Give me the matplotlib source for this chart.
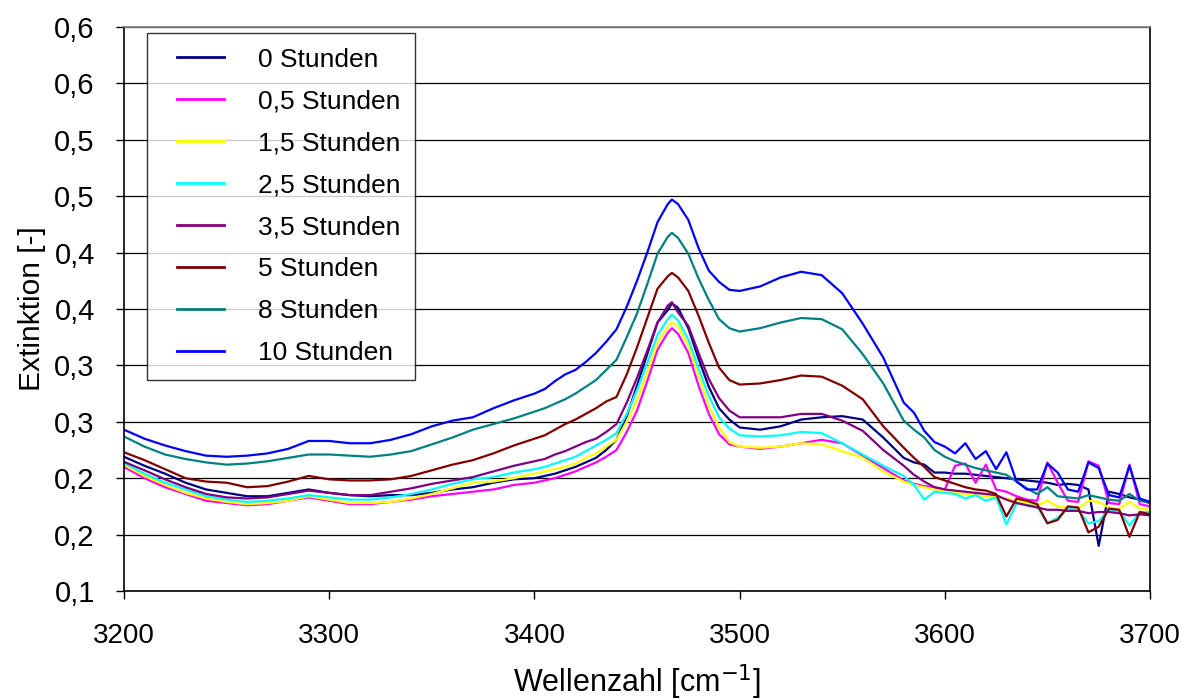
import matplotlib
matplotlib.use("Agg")
import matplotlib.pyplot as plt
from matplotlib.ticker import FixedLocator, FixedFormatter
from matplotlib.legend_handler import HandlerLine2D
from matplotlib.lines import Line2D

plt.rcParams['font.family'] = ['Liberation Sans', 'DejaVu Sans']

wavenumber = [3200, 3210, 3220, 3230, 3240, 3250, 3260, 3270, 3280, 3290,
              3300, 3310, 3320, 3330, 3340, 3350, 3360, 3370, 3380, 3390,
              3400, 3405, 3410, 3415, 3420, 3425, 3430, 3435, 3440, 3445,
              3450, 3455, 3460, 3465, 3467, 3470, 3475, 3480, 3485, 3490,
              3495, 3500, 3510, 3520, 3530, 3540, 3550, 3560, 3570, 3580,
              3585, 3590, 3595, 3600, 3605, 3610, 3615, 3620, 3625, 3630,
              3635, 3640, 3645, 3650, 3655, 3660, 3665, 3670, 3675, 3680,
              3685, 3690, 3695, 3700]

h0 = [0.219, 0.211, 0.204, 0.196, 0.190, 0.187, 0.184, 0.184, 0.187, 0.190,
      0.187, 0.185, 0.184, 0.185, 0.185, 0.187, 0.190, 0.192, 0.196, 0.199,
      0.200, 0.202, 0.204, 0.207, 0.210, 0.214, 0.218, 0.225, 0.234, 0.255,
      0.282, 0.310, 0.338, 0.349, 0.355, 0.351, 0.333, 0.306, 0.281, 0.262,
      0.252, 0.245, 0.243, 0.246, 0.252, 0.254, 0.255, 0.252, 0.236, 0.218,
      0.214, 0.212, 0.205, 0.205, 0.204, 0.204, 0.203, 0.202, 0.201, 0.200,
      0.199, 0.198, 0.197, 0.196, 0.194, 0.195, 0.194, 0.190, 0.140, 0.188,
      0.186, 0.183, 0.181, 0.178]

h05 = [0.210, 0.200, 0.192, 0.186, 0.180, 0.178, 0.176, 0.177, 0.180, 0.183,
       0.180, 0.177, 0.177, 0.179, 0.181, 0.184, 0.186, 0.188, 0.190, 0.194,
       0.196, 0.198, 0.200, 0.203, 0.206, 0.210, 0.214, 0.219, 0.225, 0.241,
       0.260, 0.286, 0.314, 0.329, 0.333, 0.328, 0.311, 0.282, 0.257, 0.239,
       0.230, 0.228, 0.226, 0.228, 0.231, 0.234, 0.231, 0.220, 0.209, 0.198,
       0.195, 0.193, 0.192, 0.190, 0.211, 0.213, 0.196, 0.212, 0.190, 0.188,
       0.184, 0.181, 0.180, 0.214, 0.196, 0.180, 0.179, 0.215, 0.211, 0.178,
       0.177, 0.212, 0.177, 0.175]

h15 = [0.212, 0.202, 0.194, 0.187, 0.182, 0.179, 0.177, 0.178, 0.180, 0.184,
       0.181, 0.178, 0.178, 0.179, 0.182, 0.186, 0.191, 0.196, 0.197, 0.200,
       0.204, 0.206, 0.208, 0.210, 0.213, 0.218, 0.222, 0.228, 0.234, 0.250,
       0.269, 0.294, 0.320, 0.334, 0.338, 0.335, 0.317, 0.291, 0.264, 0.245,
       0.232, 0.228, 0.227, 0.228, 0.231, 0.230, 0.224, 0.218, 0.206, 0.197,
       0.194, 0.192, 0.190, 0.189, 0.187, 0.186, 0.185, 0.184, 0.183, 0.182,
       0.180, 0.178, 0.176, 0.180, 0.175, 0.174, 0.173, 0.180, 0.179, 0.174,
       0.173, 0.179, 0.173, 0.172]

h25 = [0.2135, 0.204, 0.196, 0.190, 0.184, 0.181, 0.179, 0.180, 0.182, 0.185,
       0.183, 0.181, 0.181, 0.183, 0.186, 0.190, 0.195, 0.199, 0.201, 0.205,
       0.208, 0.210, 0.213, 0.216, 0.219, 0.224, 0.229, 0.234, 0.240, 0.257,
       0.278, 0.302, 0.327, 0.341, 0.345, 0.340, 0.323, 0.297, 0.273, 0.254,
       0.244, 0.238, 0.237, 0.238, 0.241, 0.240, 0.231, 0.221, 0.211, 0.202,
       0.194, 0.181, 0.188, 0.187, 0.186, 0.182, 0.185, 0.180, 0.183, 0.159,
       0.178, 0.176, 0.175, 0.160, 0.165, 0.173, 0.172, 0.160, 0.162, 0.172,
       0.171, 0.158, 0.170, 0.170]

h35 = [0.2145, 0.207, 0.199, 0.192, 0.186, 0.183, 0.182, 0.183, 0.186, 0.189,
       0.187, 0.185, 0.185, 0.188, 0.191, 0.195, 0.198, 0.201, 0.206, 0.211,
       0.215, 0.217, 0.221, 0.224, 0.228, 0.232, 0.235, 0.241, 0.248, 0.267,
       0.289, 0.313, 0.338, 0.353, 0.356, 0.347, 0.335, 0.311, 0.288, 0.271,
       0.260, 0.254, 0.254, 0.254, 0.257, 0.257, 0.251, 0.242, 0.225, 0.211,
       0.203, 0.197, 0.192, 0.190, 0.189, 0.188, 0.187, 0.186, 0.185, 0.181,
       0.178, 0.176, 0.174, 0.172, 0.172, 0.171, 0.171, 0.169, 0.170, 0.170,
       0.169, 0.167, 0.168, 0.167]

h5 = [0.223, 0.216, 0.208, 0.200, 0.197, 0.196, 0.192, 0.193, 0.197, 0.202,
      0.199, 0.198, 0.198, 0.199, 0.202, 0.207, 0.212, 0.216, 0.222, 0.229,
      0.235, 0.238, 0.243, 0.248, 0.252, 0.257, 0.262, 0.268, 0.272, 0.292,
      0.316, 0.342, 0.368, 0.379, 0.382, 0.378, 0.366, 0.344, 0.320, 0.298,
      0.287, 0.283, 0.284, 0.287, 0.291, 0.290, 0.282, 0.270, 0.246, 0.227,
      0.218, 0.210, 0.201, 0.198, 0.195, 0.192, 0.190, 0.189, 0.186, 0.166,
      0.182, 0.180, 0.177, 0.160, 0.163, 0.175, 0.174, 0.152, 0.157, 0.173,
      0.172, 0.148, 0.170, 0.168]

h8 = [0.237, 0.228, 0.221, 0.217, 0.214, 0.212, 0.213, 0.215, 0.218, 0.221,
      0.221, 0.220, 0.219, 0.221, 0.224, 0.230, 0.236, 0.243, 0.248, 0.253,
      0.259, 0.262, 0.266, 0.270, 0.275, 0.281, 0.287, 0.296, 0.305, 0.325,
      0.346, 0.372, 0.399, 0.414, 0.4175, 0.413, 0.399, 0.377, 0.358, 0.341,
      0.333, 0.330, 0.333, 0.338, 0.342, 0.341, 0.332, 0.310, 0.284, 0.251,
      0.243, 0.236, 0.225, 0.219, 0.215, 0.212, 0.209, 0.207, 0.205, 0.203,
      0.197, 0.191, 0.186, 0.192, 0.184, 0.183, 0.182, 0.185, 0.183, 0.181,
      0.180, 0.186, 0.180, 0.178]

h10 = [0.243, 0.235, 0.229, 0.224, 0.220, 0.219, 0.220, 0.222, 0.226, 0.233,
       0.233, 0.231, 0.231, 0.234, 0.239, 0.246, 0.251, 0.254, 0.262, 0.269,
       0.275, 0.279, 0.286, 0.292, 0.296, 0.303, 0.311, 0.321, 0.332, 0.352,
       0.375, 0.400, 0.427, 0.443, 0.447, 0.443, 0.429, 0.404, 0.384, 0.374,
       0.367, 0.366, 0.370, 0.378, 0.383, 0.380, 0.364, 0.337, 0.307, 0.267,
       0.258, 0.242, 0.232, 0.228, 0.222, 0.231, 0.217, 0.224, 0.208, 0.223,
       0.197, 0.190, 0.190, 0.213, 0.205, 0.190, 0.188, 0.214, 0.209, 0.185,
       0.183, 0.211, 0.182, 0.179]

series_labels = ["0 Stunden", "0,5 Stunden", "1,5 Stunden", "2,5 Stunden",
                 "3,5 Stunden", "5 Stunden", "8 Stunden", "10 Stunden"]
series_values = [h0, h05, h15, h25, h35, h5, h8, h10]
series_colors = ["#000080", "#FF00FF", "#FFFF00", "#00FFFF",
                 "#800080", "#800000", "#008080", "#0000FF"]

y_ticks = [0.10, 0.15, 0.20, 0.25, 0.30, 0.35, 0.40, 0.45, 0.50, 0.55, 0.60]
y_tick_labels = ["0,1", "0,2", "0,2", "0,3", "0,3", "0,4", "0,4", "0,5", "0,5", "0,6", "0,6"]
x_ticks = [3200, 3300, 3400, 3500, 3600, 3700]

fig = plt.figure(figsize=(11.97, 7.0), dpi=100)
ax = fig.add_axes([124/1197, 1 - 591/700, (1150-124)/1197, (591-27)/700])

for vals, lab, col in zip(series_values, series_labels, series_colors):
    ax.plot(wavenumber, vals, color=col, lw=1.6, label=lab)

ax.set_xlim(3200, 3700)
ax.set_ylim(0.10, 0.60)
ax.yaxis.set_major_locator(FixedLocator(y_ticks))
ax.yaxis.set_major_formatter(FixedFormatter(y_tick_labels))
ax.set_xticks(x_ticks)
ax.set_xticklabels([str(v) for v in x_ticks])
ax.tick_params(axis='both', direction='out', length=6, width=1, colors='black')
ax.tick_params(axis='x', pad=17, labelsize=20)
ax.tick_params(axis='y', pad=15, labelsize=21)
ax.yaxis.grid(True, color='black', lw=0.9)
ax.set_axisbelow(True)
for s in ['left', 'bottom', 'right']:
    ax.spines[s].set_color('black')
    ax.spines[s].set_linewidth(1.2)
ax.spines['top'].set_color('#808080')
ax.spines['top'].set_linewidth(1.2)

ax.set_ylabel("Extinktion [-]", fontsize=21.5, labelpad=6)
ax.set_xlabel("Wellenzahl [cm$^{-1}$]", fontsize=22, labelpad=10)

leg = ax.legend(loc='upper left', bbox_to_anchor=(0.0224, 0.989), borderaxespad=0,
                fontsize=19, frameon=True, fancybox=False, handlelength=2.35,
                labelspacing=0.68, borderpad=0.55, handletextpad=1.3,
                handler_map={Line2D: HandlerLine2D(xpad=0.57)})
leg.get_frame().set_edgecolor('black')
leg.get_frame().set_linewidth(1.0)
for h in leg.get_lines():
    h.set_linewidth(2.0)

fig.savefig("out.png", dpi=100)
